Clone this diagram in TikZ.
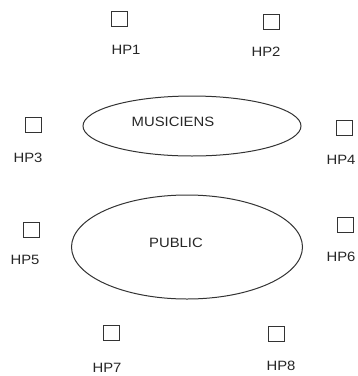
\documentclass[tikz,border=0pt]{standalone}
\usepackage{fontspec}
\setmainfont{Liberation Sans}[FakeStretch=1.1]
\usetikzlibrary{shapes.geometric}
\begin{document}
\begin{tikzpicture}[x=1pt,y=-1pt,
  hpbox/.style={draw=black!80,line width=1pt,minimum width=16pt,minimum height=15pt,inner sep=0pt},
  hplabel/.style={inner sep=0pt,font=\fontsize{13.5}{15}\selectfont,text=black!85},
  zone/.style={draw=black!80,line width=1pt,ellipse,inner sep=0pt},
  zonelabel/.style={inner sep=0pt,font=\fontsize{13.5}{15}\selectfont,text=black!85}]
\useasboundingbox (0,0) rectangle (358,376);
% ellipses
\node[zone,minimum width=218pt,minimum height=60pt] (mus) at (192,126) {};
\node[zonelabel] (musl) at (173,122) {MUSICIENS};
\node[zone,minimum width=231pt,minimum height=104pt] (pub) at (187,247) {};
\node[zonelabel] (publ) at (176,243) {PUBLIC};
% speakers
\node[hpbox] (hp1) at (119,19) {};
\node[hplabel] (hp1l) at (126,50) {HP1};
\node[hpbox] (hp2) at (271,22) {};
\node[hplabel] (hp2l) at (266,52) {HP2};
\node[hpbox] (hp3) at (33,125) {};
\node[hplabel] (hp3l) at (28,158) {HP3};
\node[hpbox] (hp4) at (344,128) {};
\node[hplabel] (hp4l) at (341,160) {HP4};
\node[hpbox] (hp5) at (31,230) {};
\node[hplabel] (hp5l) at (25,260) {HP5};
\node[hpbox] (hp6) at (345,225) {};
\node[hplabel] (hp6l) at (341,257) {HP6};
\node[hpbox] (hp7) at (111,333) {};
\node[hplabel] (hp7l) at (107,368) {HP7};
\node[hpbox] (hp8) at (276,334) {};
\node[hplabel] (hp8l) at (281,366) {HP8};
\end{tikzpicture}
\end{document}
